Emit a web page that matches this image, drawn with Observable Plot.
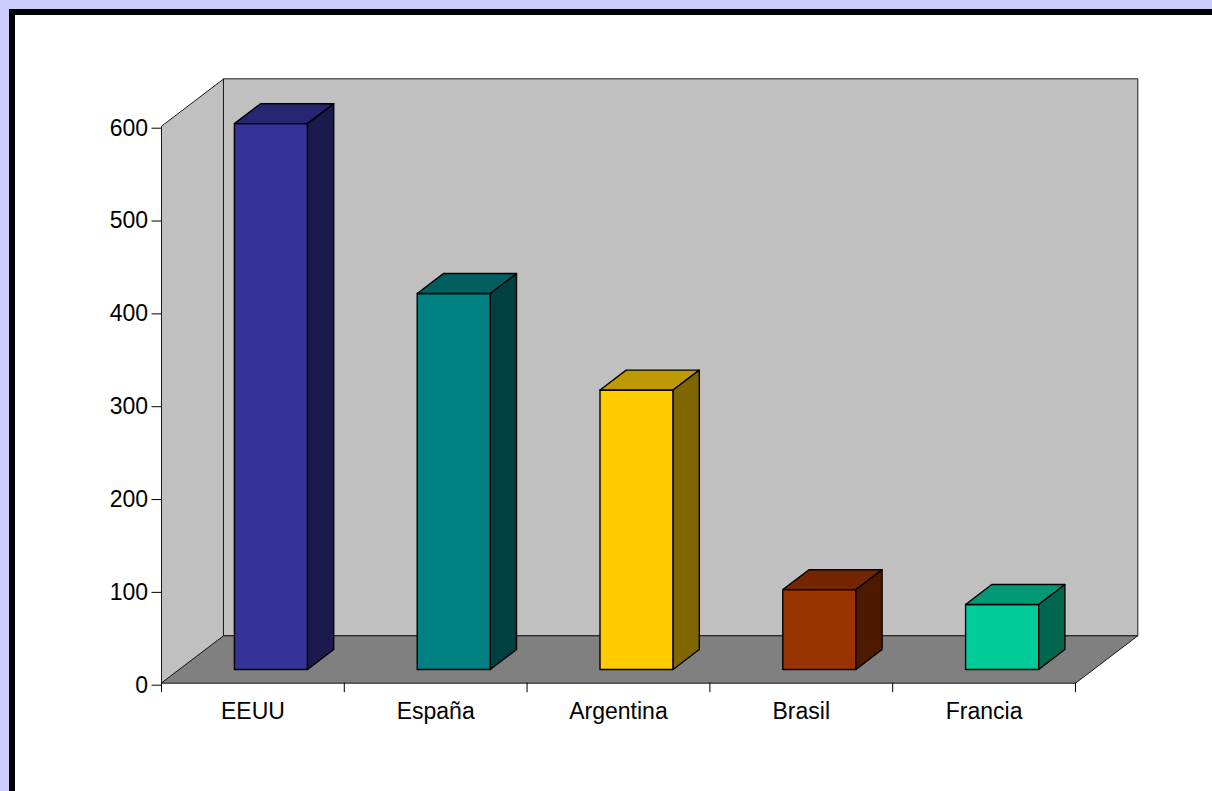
<!DOCTYPE html>
<html>
<head>
<meta charset="utf-8">
<script src="https://cdn.jsdelivr.net/npm/d3@7"></script>
<script src="https://cdn.jsdelivr.net/npm/@observablehq/plot@0.6"></script>
<style>
  html, body { margin: 0; padding: 0; background: #ccccff; width: 1212px; height: 791px; overflow: hidden; }
  #panel { position: absolute; left: 9px; top: 9px; width: 1300px; height: 900px; background: #fff;
           border-top: 6px solid #000; border-left: 6px solid #000; box-sizing: border-box; }
  #chart { position: absolute; left: 0; top: 0; }
</style>
</head>
<body>
<div id="panel"></div>
<div id="chart"></div>
<script>
// ---- data ----
const categories = ["EEUU", "España", "Argentina", "Brasil", "Francia"];
const values = [588, 405, 301, 86, 70];
const barColors = ["#333399", "#008080", "#FFCC00", "#993300", "#00CC99"];
const yTicks = [0, 100, 200, 300, 400, 500, 600];

// ---- 3D geometry (oblique projection, in scale units) ----
const n = categories.length;
const Dx = 0.341;   // depth offset along x (category units)
const Dy = 51.06;   // depth offset along y (value units)
const barW = 0.4;   // bar width as fraction of band
const fFront = 0.29, fBack = 0.71; // bar depth position
const yMax = d3.max(yTicks);

function shade(c, k) {
  const r = d3.rgb(c);
  return d3.rgb(r.r * k, r.g * k, r.b * k).formatHex();
}

const walls = [];
const bars = [];
function poly(arr, id, fill, pts) {
  pts.forEach(([x, y]) => arr.push({id, fill, x, y}));
}
poly(walls, "side", "#C0C0C0", [[0, 0], [0, yMax], [Dx, yMax + Dy], [Dx, Dy]]);
poly(walls, "back", "#C0C0C0", [[Dx, Dy], [n + Dx, Dy], [n + Dx, yMax + Dy], [Dx, yMax + Dy]]);
poly(walls, "floor", "#808080", [[0, 0], [n, 0], [n + Dx, Dy], [Dx, Dy]]);

values.forEach((v, i) => {
  const x0 = i + (1 - barW) / 2, x1 = x0 + barW;
  const fx = fFront * Dx, fy = fFront * Dy, bx = fBack * Dx, by = fBack * Dy;
  const c = barColors[i];
  poly(bars, `f${i}`, c, [[x0 + fx, fy], [x1 + fx, fy], [x1 + fx, v + fy], [x0 + fx, v + fy]]);
  poly(bars, `t${i}`, shade(c, 0.75), [[x0 + fx, v + fy], [x1 + fx, v + fy], [x1 + bx, v + by], [x0 + bx, v + by]]);
  poly(bars, `s${i}`, shade(c, 0.5), [[x1 + fx, fy], [x1 + bx, by], [x1 + bx, v + by], [x1 + fx, v + fy]]);
});

const chart = Plot.plot({
  width: 1212,
  height: 791,
  marginLeft: 161,
  marginRight: 74.7,
  marginTop: 78.3,
  marginBottom: 108.3,
  style: {background: "transparent", fontFamily: "'Liberation Sans', Arial, sans-serif", fontSize: "23px", color: "#000", overflow: "visible"},
  x: {type: "linear", domain: [0, n + Dx], label: null},
  y: {type: "linear", domain: [0, yMax + Dy], label: null},
  color: {type: "identity"},
  marks: [
    Plot.line(walls, {x: "x", y: "y", z: "id", fill: "fill", stroke: "#1a1a1a", strokeWidth: 1, curve: "linear-closed"}),
    Plot.line(bars, {x: "x", y: "y", z: "id", fill: "fill", stroke: "#000", strokeWidth: 1.4, curve: "linear-closed"}),
    Plot.axisY(yTicks, {anchor: "left", tickSize: 9.5, tickPadding: 4, dy: 2, tickFormat: d => String(d), fontSize: 23, label: null, stroke: "#000"}),
    Plot.axisX(d3.range(n + 1), {anchor: "bottom", tickSize: 9.5, tickFormat: () => "", label: null, stroke: "#000"}),
    Plot.axisX(d3.range(n).map(i => i + 0.5), {anchor: "bottom", tickSize: 0, tickPadding: 19, tickFormat: d => categories[Math.floor(d)], fontSize: 23, label: null})
  ]
});
document.getElementById("chart").appendChild(chart);
</script>
</body>
</html>
